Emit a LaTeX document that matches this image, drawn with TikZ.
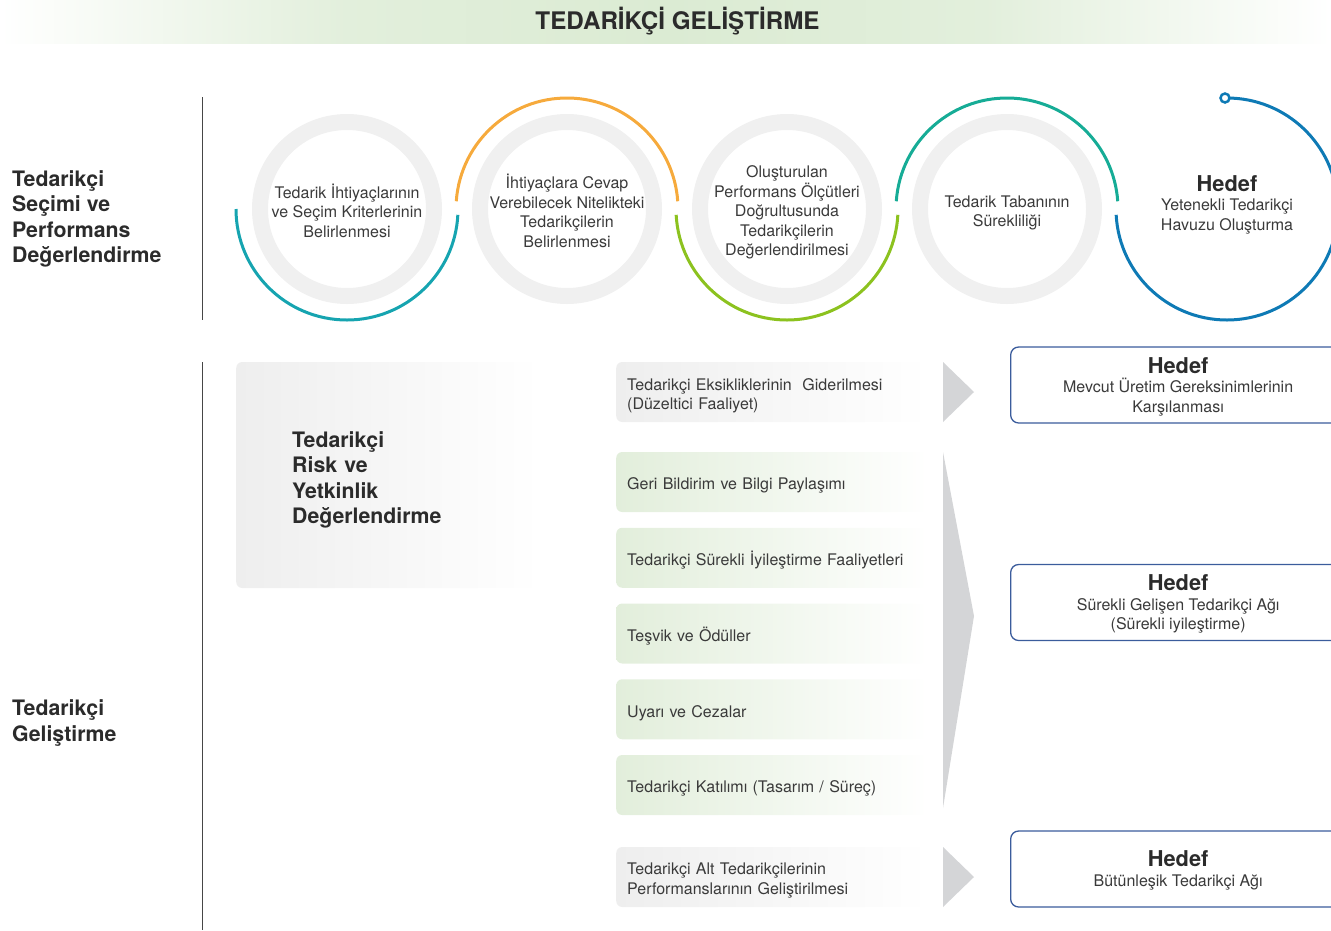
\documentclass[tikz,border=0pt]{standalone}
\usepackage{fontspec}
\setmainfont{TeX Gyre Heros}
\usetikzlibrary{positioning}
\definecolor{titlegreen}{RGB}{219, 235, 211}
\definecolor{ringgray}{RGB}{240, 240, 240}
\definecolor{tealA}{RGB}{22, 164, 176}
\definecolor{orangeA}{RGB}{246, 170, 60}
\definecolor{greenA}{RGB}{140, 194, 31}
\definecolor{tealB}{RGB}{22, 172, 150}
\definecolor{blueA}{RGB}{14, 122, 181}
\definecolor{boxgray}{RGB}{238, 238, 238}
\definecolor{boxgreen}{RGB}{226, 238, 219}
\definecolor{chevgray}{RGB}{212, 213, 215}
\definecolor{goalblue}{RGB}{59, 92, 156}
\definecolor{headtext}{RGB}{43, 43, 43}
\definecolor{bodytext}{RGB}{58, 58, 58}
\definecolor{divgray}{RGB}{70, 70, 70}
\pgfdeclarehorizontalshading{titlebar}{100bp}{color(0bp)=(white); color(25bp)=(white); color(38bp)=(titlegreen!80); color(50bp)=(titlegreen); color(62bp)=(titlegreen!80); color(75bp)=(white); color(100bp)=(white)}
\newcommand{\hedefline}{\textcolor{headtext}{\fontsize{21.8}{23}\selectfont\bfseries\rule{0pt}{19pt}Hedef}}

\begin{document}
\begin{tikzpicture}[
    x=1pt, y=-1pt,
    ring/.style={draw=ringgray, line width=16pt},
    arcline/.style={line width=3pt},
    divider/.style={draw=divgray, line width=0.9pt},
    steptext/.style={align=center, text=bodytext, font=\fontsize{16}{19.5}\selectfont},
    sidelabel/.style={anchor=west, inner sep=0pt, align=left, text=headtext, font=\fontsize{21.3}{25.5}\selectfont\bfseries},
    riskbox/.style={anchor=west, rounded corners=6pt, left color=boxgray, right color=white, minimum width=304pt, minimum height=226pt, text width=192pt, inner xsep=56pt, align=left, text=headtext, font=\fontsize{21.3}{25.5}\selectfont\bfseries, execute at begin node={\rule{0pt}{25.5pt}}},
    actbox/.style={anchor=west, rounded corners=6pt, right color=white, minimum height=60pt, text width=290pt, inner xsep=11pt, align=left, text=bodytext, font=\fontsize{16}{19.5}\selectfont, execute at begin node={\rule{0pt}{19pt}}},
    goalbox/.style={anchor=west, draw=goalblue, line width=1.3pt, rounded corners=8pt, fill=white, minimum width=335pt, minimum height=76pt, align=center, text=bodytext, font=\fontsize{16}{19.5}\selectfont}
]

\useasboundingbox (0,0) rectangle (1331,930);
\clip (0,0) rectangle (1331,930);

% Title
\shade[shading=titlebar] (0,0) rectangle (1331,43);
\node[text=headtext, font=\fontsize{24.2}{27}\selectfont\bfseries] (title) at (677.5,21.5) {TEDARİKÇİ GELİŞTİRME};

% Section labels
\node[sidelabel] (selection) at (12,219) {Tedarikçi\\Seçimi ve\\Performans\\Değerlendirme};
\node[sidelabel] (development) at (12,723) {Tedarikçi\\Geliştirme};
\draw[divider] (202,97) -- (202,320);
\draw[divider] (202,362) -- (202,930);

% Selection steps: gray rings
\foreach \i in {0, 1, 2, 3} {
    \pgfmathsetmacro{\x}{347 + \i * 220}
    \draw[ring] (\x,209) circle (87pt);
}

% Coloured arcs
\draw[arcline, tealA] (347,209) ++(180:111pt) arc (180:357:111pt);
\draw[arcline, orangeA] (567,209) ++(176:111pt) arc (176:4:111pt);
\draw[arcline, greenA] (787,209) ++(183:111pt) arc (183:357:111pt);
\draw[arcline, tealB] (1007,209) ++(176:111pt) arc (176:4:111pt);
\draw[arcline, blueA] (1227,209) ++(183:111pt) arc (183:450:111pt);
\draw[blueA, line width=2.5pt, fill=white] (1225,98) circle (4.5pt);

% Step texts
\node[steptext] (step1) at (347,210.5) {Tedarik İhtiyaçlarının\\ve Seçim Kriterlerinin\\Belirlenmesi};
\node[steptext] (step2) at (567,211) {İhtiyaçlara Cevap\\Verebilecek Nitelikteki\\Tedarikçilerin\\Belirlenmesi};
\node[steptext] (step3) at (787,212.5) {Oluşturulan\\Performans Ölçütleri\\Doğrultusunda\\Tedarikçilerin\\Değerlendirilmesi};
\node[steptext] (step4) at (1007,213) {Tedarik Tabanının\\Sürekliliği};
\node[steptext] (target) at (1227,203) {\hedefline\\Yetenekli Tedarikçi\\Havuzu Oluşturma};

% Risk assessment
\node[riskbox] (risk) at (236,475) {Tedarikçi\\Risk ve\\Yetkinlik\\Değerlendirme};

% Development activities
\node[actbox, left color=boxgray] (fix) at (616,392) {Tedarikçi Eksikliklerinin\ \ Giderilmesi\\(Düzeltici Faaliyet)};
\foreach \txt [count=\i from 0] in {Geri Bildirim ve Bilgi Paylaşımı, Tedarikçi Sürekli İyileştirme Faaliyetleri, Teşvik ve Ödüller, Uyarı ve Cezalar, Tedarikçi Katılımı (Tasarım / Süreç)} {
    \pgfmathsetmacro{\y}{482 + \i * 75.75}
    \node[actbox, left color=boxgreen] (act\i) at (616,\y) {\txt};
}
\node[actbox, left color=boxgray] (sub) at (616,877) {Tedarikçi Alt Tedarikçilerinin\\Performanslarının Geliştirilmesi};

% Chevrons
\fill[chevgray] (943,362) -- (974,392) -- (943,422) -- cycle;
\fill[chevgray] (943,452) -- (974,616) -- (943,808) -- cycle;
\fill[chevgray] (943,847) -- (974,877) -- (943,907) -- cycle;

% Goals
\node[goalbox] (goal1) at (1010,385) {\hedefline\\Mevcut Üretim Gereksinimlerinin\\Karşılanması};
\node[goalbox] (goal2) at (1010,602.5) {\hedefline\\Sürekli Gelişen Tedarikçi Ağı\\(Sürekli iyileştirme)};
\node[goalbox] (goal3) at (1010,869) {\hedefline\\Bütünleşik Tedarikçi Ağı};

\end{tikzpicture}
\end{document}
